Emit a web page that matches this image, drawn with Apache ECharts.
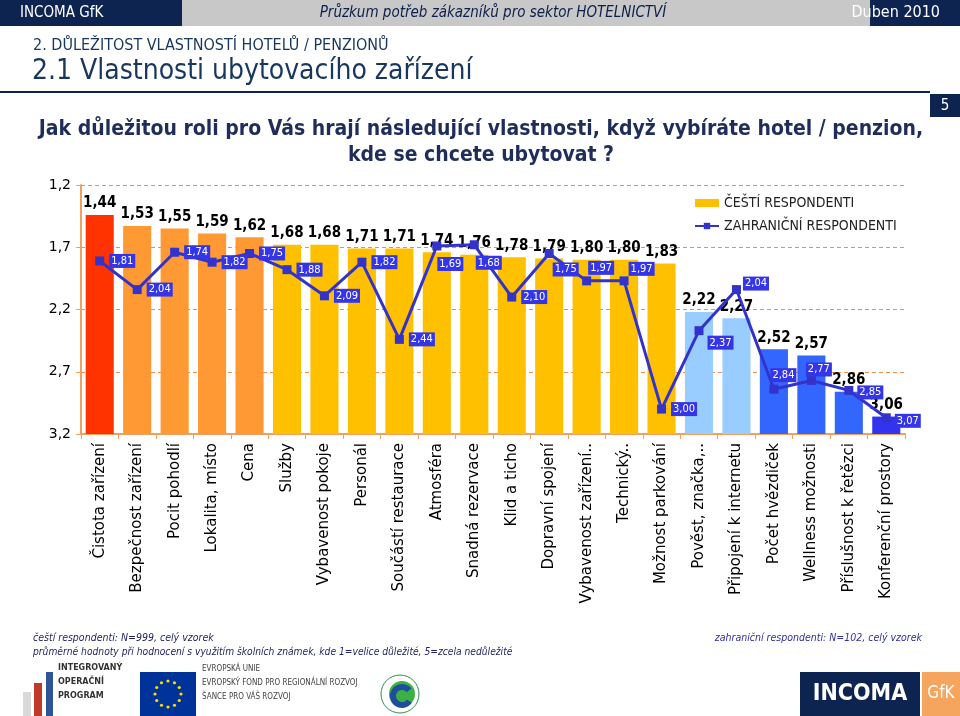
<!DOCTYPE html>
<html><head><meta charset="utf-8">
<script src="https://cdn.jsdelivr.net/npm/echarts@6/dist/echarts.min.js"></script>
<style>html,body{margin:0;padding:0;background:#fff}#c{width:960px;height:716px}</style>
</head><body><div id="c"></div>
<script>
// ---------- data ----------
const categories = ['Čistota zařízení','Bezpečnost zařízení','Pocit pohodlí','Lokalita, místo','Cena','Služby','Vybavenost pokoje','Personál','Součástí restaurace','Atmosféra','Snadná rezervace','Klid a ticho','Dopravní spojení','Vybavenost zařízení..','Technický..','Možnost parkování','Pověst, značka,..','Připojení k internetu','Počet hvězdiček','Wellness možnosti','Příslušnost k řetězci','Konferenční prostory'];
const czechValues = [1.44,1.53,1.55,1.59,1.62,1.68,1.68,1.71,1.71,1.74,1.76,1.78,1.79,1.80,1.80,1.83,2.22,2.27,2.52,2.57,2.86,3.06];
const foreignValues = [1.81,2.04,1.74,1.82,1.75,1.88,2.09,1.82,2.44,1.69,1.68,2.10,1.75,1.97,1.97,3.00,2.37,2.04,2.84,2.77,2.85,3.07];
const yTickLabels = [1.2,1.7,2.2,2.7,3.2];
const seriesNames = ['ČEŠTÍ RESPONDENTI','ZAHRANIČNÍ RESPONDENTI'];

// ---------- styles ----------
const barColors = ['#FF3300','#FF9933','#FF9933','#FF9933','#FF9933','#FFC000','#FFC000','#FFC000','#FFC000','#FFC000','#FFC000','#FFC000','#FFC000','#FFC000','#FFC000','#FFC000','#99CCFF','#99CCFF','#3366FF','#3366FF','#3366FF','#3333EE'];
const foreignLabelOffsets = {9:[-9,18],10:[-8,18],12:[-6,16],13:[-8,-13],14:[-5,-12],16:[-1,12],17:[-3,-6],18:[-13,-14],19:[-15,-11],20:[-1,2],21:[-1,3]};
const CF = "'DejaVu Sans Condensed','DejaVu Sans',sans-serif";
const DF = "'DejaVu Sans',sans-serif";
const NAVY = '#0D2450';
const fmt = v => v.toFixed(2).replace('.', ',');

const axisMin = yTickLabels[0], axisMax = yTickLabels[yTickLabels.length-1];

const graphic = [
  // header
  {type:'rect', shape:{x:0,y:0,width:182,height:26}, style:{fill:NAVY}},
  {type:'rect', shape:{x:182,y:0,width:688,height:26}, style:{fill:'#C8C8C8'}},
  {type:'rect', shape:{x:870,y:0,width:90,height:26}, style:{fill:NAVY}},
  {type:'text', style:{text:'INCOMA GfK', x:20, y:13, fill:'#fff', font:'15px '+CF, verticalAlign:'middle', textVerticalAlign:'middle'}},
  {type:'text', style:{text:'Průzkum potřeb zákazníků pro sektor HOTELNICTVÍ', x:493, y:13, fill:'#0B1F4B', font:'italic 15px '+CF, align:'center', textAlign:'center', verticalAlign:'middle', textVerticalAlign:'middle'}},
  {type:'text', style:{text:'Duben 2010', x:940, y:13, fill:'#fff', font:'16px '+CF, align:'right', textAlign:'right', verticalAlign:'middle', textVerticalAlign:'middle'}},
  // section titles
  {type:'text', style:{text:'2. DŮLEŽITOST VLASTNOSTÍ HOTELŮ / PENZIONŮ', x:33, y:46, fill:'#17375E', font:'16px '+CF, verticalAlign:'middle', textVerticalAlign:'middle'}},
  {type:'text', style:{text:'2.1 Vlastnosti ubytovacího zařízení', x:32, y:72, fill:'#17375E', font:'28px '+CF, verticalAlign:'middle', textVerticalAlign:'middle'}},
  {type:'rect', shape:{x:0,y:91,width:930,height:2}, style:{fill:NAVY}},
  {type:'rect', shape:{x:930,y:94,width:30,height:23}, style:{fill:NAVY}},
  {type:'text', style:{text:'5', x:945, y:106, fill:'#fff', font:'15px '+CF, align:'center', textAlign:'center', verticalAlign:'middle', textVerticalAlign:'middle'}},
  // question
  {type:'text', style:{text:'Jak důležitou roli pro Vás hrají následující vlastnosti, když vybíráte hotel / penzion,', x:481, y:130, fill:'#1F2D5A', font:'bold 21px '+CF, align:'center', textAlign:'center', verticalAlign:'middle', textVerticalAlign:'middle'}},
  {type:'text', style:{text:'kde se chcete ubytovat ?', x:481, y:156, fill:'#1F2D5A', font:'bold 21px '+CF, align:'center', textAlign:'center', verticalAlign:'middle', textVerticalAlign:'middle'}},
  // footer notes
  {type:'text', style:{text:'čeští respondenti: N=999, celý vzorek', x:33, y:638, fill:'#1F1F5F', font:'italic 10.5px '+CF, verticalAlign:'middle', textVerticalAlign:'middle'}},
  {type:'text', style:{text:'průměrné hodnoty při hodnocení s využitím školních známek, kde 1=velice důležité, 5=zcela nedůležité', x:33, y:652, fill:'#1F1F5F', font:'italic 10.2px '+CF, verticalAlign:'middle', textVerticalAlign:'middle'}},
  {type:'text', style:{text:'zahraniční respondenti: N=102, celý vzorek', x:922, y:638, fill:'#2F2FA0', font:'italic 10.5px '+CF, align:'right', textAlign:'right', verticalAlign:'middle', textVerticalAlign:'middle'}},
  // IOP logo
  {type:'rect', shape:{x:23,y:692,width:8,height:24}, style:{fill:'#D9D9D9'}},
  {type:'rect', shape:{x:34,y:683,width:8,height:33}, style:{fill:'#C0392B'}},
  {type:'rect', shape:{x:46,y:672,width:7,height:44}, style:{fill:'#2F5597'}},
  {type:'text', style:{text:'INTEGROVANÝ\nOPERAČNÍ\nPROGRAM', x:58, y:682, fill:'#333', font:'bold 8px '+DF, lineHeight:14, verticalAlign:'middle', textVerticalAlign:'middle'}},
  // EU flag
  {type:'rect', shape:{x:140,y:672,width:56,height:44}, style:{fill:'#003399'}},
  {type:'text', style:{text:'EVROPSKÁ UNIE\nEVROPSKÝ FOND PRO REGIONÁLNÍ ROZVOJ\nŠANCE PRO VÁŠ ROZVOJ', x:202, y:683, fill:'#444', font:'8px '+CF, lineHeight:14, verticalAlign:'middle', textVerticalAlign:'middle'}},
  // ministry logo
  {type:'circle', shape:{cx:400,cy:694,r:19}, style:{fill:'#fff', stroke:'#2E8B57', lineWidth:1}},
  {type:'circle', shape:{cx:402,cy:694,r:13}, style:{fill:'#3CB043'}},
  {type:'arc', shape:{cx:402,cy:696,r:9,startAngle:0.6,endAngle:5.6}, style:{stroke:'#1E4DA0', lineWidth:6, fill:'none'}},
  // INCOMA GfK logo
  {type:'rect', shape:{x:800,y:672,width:120,height:44}, style:{fill:NAVY}},
  {type:'text', style:{text:'INCOMA', x:860, y:694, fill:'#fff', font:'bold 23px '+CF, align:'center', textAlign:'center', verticalAlign:'middle', textVerticalAlign:'middle'}},
  {type:'rect', shape:{x:922,y:672,width:38,height:44}, style:{fill:'#F6A55E'}},
  {type:'text', style:{text:'GfK', x:941, y:694, fill:'#fff', font:'17px '+CF, align:'center', textAlign:'center', verticalAlign:'middle', textVerticalAlign:'middle'}}
];
// EU stars
for (let i = 0; i < 12; i++) {
  const a = i * Math.PI / 6;
  graphic.push({type:'circle', shape:{cx:168 + 13*Math.cos(a), cy:694 + 13*Math.sin(a), r:1.6}, style:{fill:'#FFDD00'}});
}

const chart = echarts.init(document.getElementById('c'));
chart.setOption({
  animation:false,
  backgroundColor:'#fff',
  graphic: graphic,
  grid:{left:81, right:55, top:185, bottom:282},
  legend:{
    orient:'vertical', left:694, top:196, itemWidth:24, itemHeight:8, itemGap:9, padding:0,
    data:[{name:seriesNames[0], icon:'rect'}, {name:seriesNames[1]}],
    textStyle:{fontSize:14, fontFamily:CF, color:'#222'}
  },
  xAxis:{
    type:'category', data:categories,
    axisLine:{lineStyle:{color:'#F0A060', width:2}},
    axisTick:{show:true, length:5, lineStyle:{color:'#F0A060'}},
    axisLabel:{rotate:90, interval:0, fontSize:15, fontFamily:DF, color:'#000', margin:9}
  },
  yAxis:{
    type:'value', inverse:true, min:axisMin, max:axisMax, interval:0.5,
    axisLine:{show:true, lineStyle:{color:'#F0A060', width:2}},
    axisTick:{show:true, length:5, lineStyle:{color:'#F0A060'}},
    splitLine:{lineStyle:{color:'#F08C50', type:[4,3], width:1}},
    axisLabel:{fontSize:14, fontFamily:DF, color:'#000', margin:10, formatter:v => v.toFixed(1).replace('.', ',')}
  },
  series:[
    {
      name:'_base', type:'bar', stack:'s', silent:true, barCategoryGap:'25%',
      itemStyle:{color:'rgba(0,0,0,0)'},
      data:czechValues
    },
    {
      name:seriesNames[0], type:'bar', stack:'s', barCategoryGap:'25%',
      itemStyle:{color:'#FFC000'},
      data:czechValues.map((v,i) => ({value:+(axisMax - v).toFixed(2), itemStyle:{color:barColors[i]}})),
      label:{show:true, position:'top', distance:4, color:'#000', fontWeight:'bold', fontSize:15, fontFamily:CF,
        formatter:p => fmt(czechValues[p.dataIndex])}
    },
    {
      name:seriesNames[1], type:'line', symbol:'rect', symbolSize:9, z:5,
      itemStyle:{color:'#3333CC'},
      lineStyle:{color:'#3333CC', width:3},
      data:foreignValues.map((v,i) => ({value:v, label:{offset:foreignLabelOffsets[i] || [0,0]}})),
      label:{show:true, position:'right', distance:5, color:'#fff', backgroundColor:'#3535E8', padding:[2,2,1,2],
        fontSize:11, fontFamily:CF, formatter:p => fmt(p.value)}
    }
  ]
});
</script>
</body></html>
